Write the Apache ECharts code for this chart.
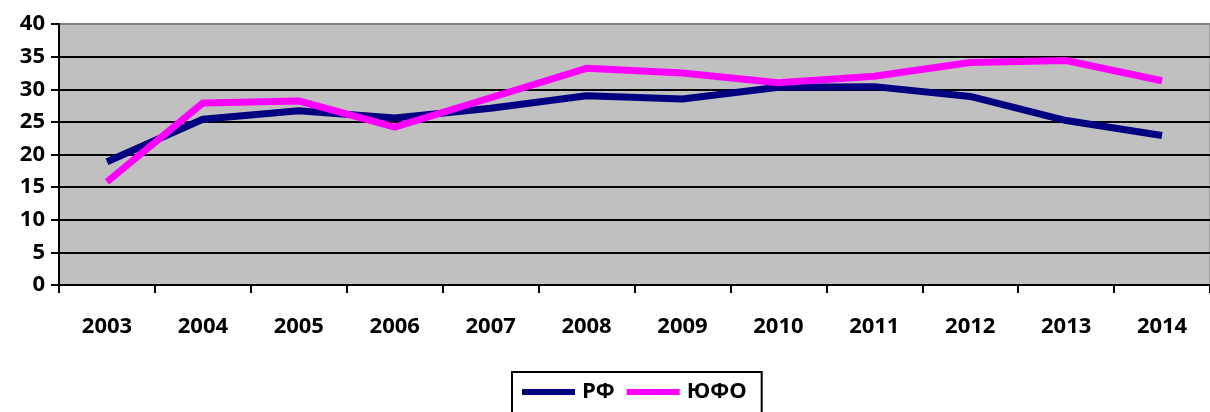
<!DOCTYPE html>
<html>
<head>
<meta charset="utf-8">
<script src="https://cdn.jsdelivr.net/npm/echarts@6/dist/echarts.min.js"></script>
<style>
  html, body { margin: 0; padding: 0; background: #fff; }
  #charts_box { width: 1210px; height: 412px; }
</style>
</head>
<body>
<div id="charts_box"></div>
<script>
// годы и значения двух рядов
var years = ['2003', '2004', '2005', '2006', '2007', '2008', '2009', '2010', '2011', '2012', '2013', '2014'];
var rf = [18.9, 25.4, 26.7, 25.6, 27.1, 29.0, 28.5, 30.3, 30.4, 28.9, 25.2, 22.9];
var ufo = [15.8, 27.9, 28.2, 24.2, 28.7, 33.2, 32.5, 31.0, 32.0, 34.1, 34.4, 31.3];
var yMin = 0, yMax = 40, yStep = 5;

window.onload = function () {
    var myChart = echarts.init(document.getElementById('charts_box'));
    var font = '"Open Sans", "DejaVu Sans", sans-serif';

    var option = {
        animation: false,
        legend: {
            left: 512,
            top: 372,
            padding: [9, 15, 14, 10],
            itemGap: 12,
            itemWidth: 53,
            itemHeight: 6,
            borderColor: '#000',
            borderWidth: 2,
            borderRadius: 0,
            icon: 'rect',
            textStyle: { fontFamily: font, fontWeight: 'bold', fontSize: 22, color: '#000', padding: [0, 0, 0, 2] },
            data: ['РФ', 'ЮФО']
        },
        grid: {
            left: 59,
            top: 24,
            right: -9,
            bottom: 127,
            show: true,
            backgroundColor: '#C0C0C0',
            borderColor: '#808080',
            borderWidth: 1
        },
        xAxis: {
            type: 'category',
            boundaryGap: true,
            data: years,
            axisLine: { lineStyle: { color: '#000', width: 2 } },
            axisTick: { show: true, length: 8, lineStyle: { color: '#000', width: 2 } },
            axisLabel: { margin: 31, fontFamily: font, fontWeight: 'bold', fontSize: 22, color: '#000', interval: 0 },
            splitLine: { show: false }
        },
        yAxis: {
            type: 'value',
            min: yMin,
            max: yMax,
            interval: yStep,
            axisLine: { show: true, lineStyle: { color: '#000', width: 2 } },
            axisTick: { show: true, length: 8, lineStyle: { color: '#000', width: 2 } },
            axisLabel: { margin: 14, fontFamily: font, fontWeight: 'bold', fontSize: 22, color: '#000' },
            splitLine: {
                show: true,
                lineStyle: {
                    color: ['#000', '#000', '#000', '#000', '#000', '#000', '#000', '#000', '#808080'],
                    width: 2
                }
            }
        },
        series: [
            {
                name: 'РФ',
                type: 'line',
                data: rf,
                symbol: 'none',
                color: '#000080',
                lineStyle: { width: 7, color: '#000080' }
            },
            {
                name: 'ЮФО',
                type: 'line',
                data: ufo,
                symbol: 'none',
                color: '#FF00FF',
                lineStyle: { width: 7, color: '#FF00FF' }
            }
        ]
    };
    myChart.setOption(option);
};
</script>
</body>
</html>
